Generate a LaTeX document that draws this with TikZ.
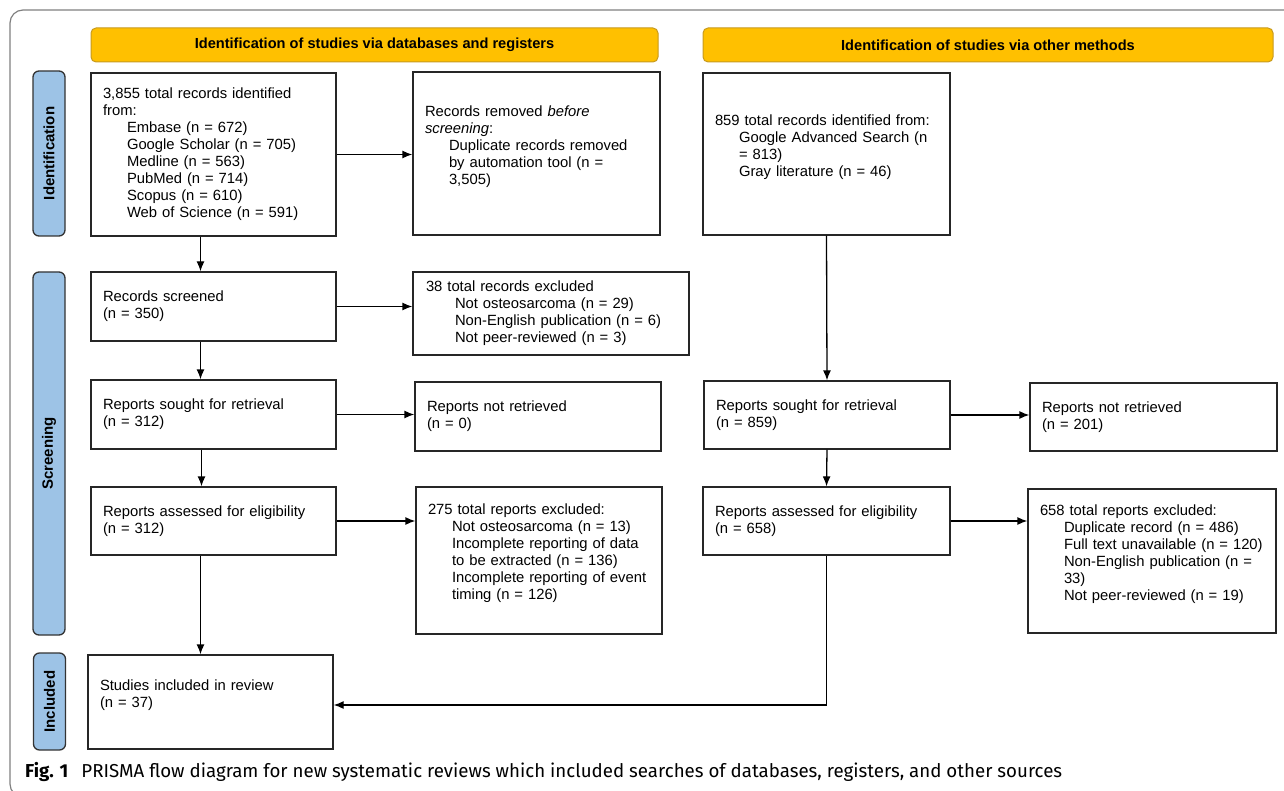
\documentclass[tikz,border=0pt]{standalone}
\usepackage{fontspec}
\setmainfont{Liberation Sans}
\newfontfamily\capfont{Fira Sans}
\usepackage{tikz}
\usetikzlibrary{calc, arrows, arrows.meta, positioning}
\tikzset{>={Latex[length=10pt,width=8pt]}}
\definecolor{hdrfill}{HTML}{FFC000}
\definecolor{hdrline}{HTML}{C79A1E}
\definecolor{sidefill}{HTML}{9DC3E6}
\definecolor{frameline}{HTML}{808080}
\newcommand{\indt}{\hspace*{24pt}}
\tikzset{
  box/.style 2 args={draw=black!85, line width=1.3pt, text width=#1, minimum height=#2,
    inner xsep=12pt, inner ysep=0pt, align=left, font=\fontsize{14.8}{17}\selectfont},
  hdr/.style={draw=hdrline, fill=hdrfill, line width=1pt, rounded corners=5pt,
    minimum height=34pt, font=\bfseries\fontsize{14.6}{17}\selectfont},
  side/.style={draw=black!80, fill=sidefill, line width=1.3pt, rounded corners=6pt,
    rotate=90, minimum height=32pt, font=\bfseries\fontsize{15}{17}\selectfont},
  link/.style={->, line width=1.3pt}
}

\begin{document}
\begin{tikzpicture}[x=1pt, y=-1pt]
\useasboundingbox (0,0) rectangle (1284,791);
\begin{scope}
\clip (0,0) rectangle (1284,791);
\draw[frameline, line width=1.2pt, rounded corners=13pt] (10,10) rectangle (1300,797);
\end{scope}

% headers and phases
\node[hdr, minimum width=567pt] (hdrdb) at (374.5,45) {Identification of studies via databases and registers};
\node[hdr, minimum width=570pt] (hdroth) at (988,45) {Identification of studies via other methods};
\node[side, minimum width=165pt] (phid) at (49,153.5) {Identification};
\node[side, minimum width=363pt] (phscr) at (49,453.5) {Screening};
\node[side, minimum width=97pt] (phinc) at (49.5,701.5) {Included};

% databases and registers
\node[box={221pt}{163pt}] (recid) at (213.5,154.5)
  {3,855 total records identified\\ from:\\ \indt Embase (n = 672)\\ \indt Google Scholar (n = 705)\\
   \indt Medline (n = 563)\\ \indt PubMed (n = 714)\\ \indt Scopus (n = 610)\\ \indt Web of Science (n = 591)};
\node[box={223pt}{163pt}] (removed) at (536.5,153.5)
  {Records removed \textit{before}\\ \textit{screening}:\\ \indt Duplicate records removed\\
   \indt by automation tool (n =\\ \indt 3,505)\\ \mbox{}};
\node[box={221pt}{69pt}] (screened) at (213.5,306.5) {Records screened\\ (n = 350)};
\node[box={250pt}{83pt}, inner xsep=13pt] (excla) at (551,313.5)
  {38 total records excluded\\ \hspace*{29pt}Not osteosarcoma (n = 29)\\
   \hspace*{29pt}Non-English publication (n = 6)\\ \hspace*{29pt}Not peer-reviewed (n = 3)};
\node[box={221pt}{69pt}] (sought) at (213.5,414.5) {Reports sought for retrieval\\ (n = 312)};
\node[box={222pt}{69pt}] (notret) at (538,416.5) {Reports not retrieved\\ (n = 0)};
\node[box={221pt}{68pt}] (assessed) at (213.5,521) {Reports assessed for eligibility\\ (n = 312)};
\node[box={222pt}{147pt}] (exclb) at (539,560.5)
  {275 total reports excluded:\\ \indt Not osteosarcoma (n = 13)\\ \indt Incomplete reporting of data\\
   \indt to be extracted (n = 136)\\ \indt Incomplete reporting of event\\ \indt timing (n = 126)\\ \mbox{}};
\node[box={221pt}{94pt}] (included) at (210.5,702) {Studies included in review\\ (n = 37)\\ \mbox{}};

% other methods
\node[box={223pt}{162pt}] (othid) at (826.5,154)
  {859 total records identified from:\\ \indt Google Advanced Search (n\\ \indt = 813)\\
   \indt Gray literature (n = 46)\\ \mbox{}};
\node[box={222pt}{68pt}] (othsought) at (827,415) {Reports sought for retrieval\\ (n = 859)};
\node[box={223pt}{68pt}] (othnotret) at (1153.5,417) {Reports not retrieved\\ (n = 201)};
\node[box={223pt}{68pt}] (othassessed) at (826.5,521) {Reports assessed for eligibility\\ (n = 658)};
\node[box={224pt}{144pt}] (othexcl) at (1152,561)
  {658 total reports excluded:\\ \indt Duplicate record (n = 486)\\ \indt Full text unavailable (n = 120)\\
   \indt Non-English publication (n =\\ \indt 33)\\ \indt Not peer-reviewed (n = 19)\\ \mbox{}};

\path[link]
(recid.east) edge (recid.east -| removed.west)
([xshift=-13pt]recid.south) edge ([xshift=-13pt]screened.north)
(screened.east) edge (screened.east -| excla.west)
([xshift=-13pt]screened.south) edge ([xshift=-13pt]sought.north)
(sought.east) edge (sought.east -| notret.west)
([xshift=-12pt]sought.south) edge ([xshift=-12pt]assessed.north)
(assessed.east) edge (assessed.east -| exclb.west)
([xshift=-13pt]assessed.south) edge ([xshift=-10pt]included.north)
;
\path[link]
(othid.south) edge (othsought.north)
(othsought.east) edge (othsought.east -| othnotret.west)
(othsought.south) edge (othassessed.north)
(othassessed.east) edge (othassessed.east -| othexcl.west)
;
\draw[link] (othassessed.south) |- ([yshift=-3pt]included.east);

\node[anchor=base west, inner sep=0pt, font=\capfont\fontsize{18.7}{20}\selectfont] (caption) at (25,777)
  {\textbf{Fig. 1}\hspace{13pt}PRISMA flow diagram for new systematic reviews which included searches of databases, registers, and other sources};
\end{tikzpicture}
\end{document}
